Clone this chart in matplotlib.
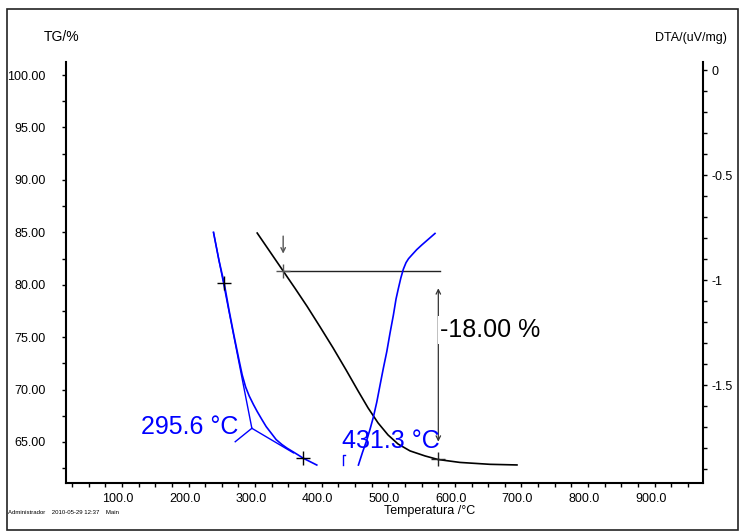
import matplotlib
matplotlib.use("Agg")
import matplotlib.pyplot as plt
import matplotlib.transforms as mtransforms
from matplotlib.patches import Rectangle

plt.rcParams["font.family"] = ["Liberation Sans", "DejaVu Sans"]

# TG curve (left axis, %)
tg_temp = [303.1, 322.6, 342.1, 360.1, 378.1, 397.6, 417.1, 436.6, 454.6,
           469.6, 484.6, 499.6, 514.6, 532.6, 555.1, 574.6, 607.7, 652.7,
           693.2]
tg_mass = [84.93, 83.12, 81.31, 79.64, 77.93, 75.97, 73.97, 71.87, 69.87,
           68.25, 66.82, 65.67, 64.81, 64.15, 63.67, 63.33, 63.05, 62.87,
           62.81]

# DTA curve (right axis, uV/mg), two visible pieces
dta1_temp = [237.5, 245.6, 253.6, 260.8, 268.1, 275.8, 280.6, 285.8, 291.1,
             297.5, 303.1, 310.1, 316.6, 325.1, 331.6, 340.1, 348.1, 357.5,
             364.6, 372.5, 382.6, 392.6]
dta1_val = [-0.773, -0.905, -1.016, -1.143, -1.262, -1.381, -1.452, -1.510,
            -1.552, -1.593, -1.626, -1.664, -1.698, -1.733, -1.760, -1.783,
            -1.801, -1.819, -1.833, -1.849, -1.865, -1.881]
dta2_temp = [455.1, 461.4, 467.7, 472.6, 477.6, 482.7, 487.6, 492.6, 497.7,
             502.6, 507.6, 511.6, 515.1, 518.8, 522.6, 526.6, 530.4, 535.2,
             542.7, 550.2, 559.6, 570.1]
dta2_val = [-1.881, -1.819, -1.762, -1.710, -1.652, -1.581, -1.500, -1.419,
            -1.341, -1.252, -1.167, -1.090, -1.040, -0.990, -0.948, -0.917,
            -0.898, -0.881, -0.855, -0.833, -0.807, -0.778]

# onset construction lines
tan1_temp = [237.5, 295.1]
tan1_val = [-0.773, -1.706]
tan2_temp = [295.1, 357.5]
tan2_val = [-1.706, -1.823]
mark_temp = [295.1, 270.1]
mark_val = [-1.706, -1.770]
onset1 = 295.6
onset2 = 431.3

# step evaluation
step_start = (342.1, 81.31)
step_end = (575.1, 63.33)
step_text = "-18.00 %"

x_major = [100, 200, 300, 400, 500, 600, 700, 800, 900]
x_labels = ["100.0", "200.0", "300.0", "400.0", "500.0", "600.0", "700.0",
            "800.0", "900.0"]
tg_ticks = [65, 70, 75, 80, 85, 90, 95, 100]
tg_labels = ["65.00", "70.00", "75.00", "80.00", "85.00", "90.00", "95.00",
             "100.00"]
dta_ticks = [-1.5, -1.0, -0.5, 0.0]
dta_labels = ["-1.5", "-1", "-0.5", "0"]

fig = plt.figure(figsize=(7.39, 5.32), dpi=100)
W, H = 739, 532
ax = fig.add_axes([66 / W, 1 - 483.3 / H, (703.3 - 66) / W, (483.3 - 61.7) / H])
ax2 = ax.twinx()

# outer frame
fig.patches.append(Rectangle((7 / W, 2 / H), 1 - 8 / W, 521 / H,
                             transform=fig.transFigure, fill=False,
                             edgecolor="#222222", lw=1.2))

ax.set_xlim(16, 973)
ax.set_ylim(61.06, 101.27)
ax2.set_ylim(-1.968, 0.04)

for a in (ax, ax2):
    a.spines["top"].set_visible(False)
    a.patch.set_visible(False)
ax.spines["right"].set_visible(False)
ax2.spines["left"].set_visible(False)
ax2.spines["bottom"].set_visible(False)
ax.spines["left"].set_linewidth(1.5)
ax.spines["bottom"].set_linewidth(1.5)
ax2.spines["right"].set_linewidth(1.5)

ax.set_xticks(x_major)
ax.set_xticklabels(x_labels)
ax.set_xticks([t for t in range(25, 975, 25) if t % 100], minor=True)
ax.set_yticks(tg_ticks)
ax.set_yticklabels(tg_labels)
ax.set_yticks([62.5 + 5 * i for i in range(8)], minor=True)
ax2.set_yticks(dta_ticks)
ax2.set_yticklabels(dta_labels)
ax2.set_yticks([-0.1 * i for i in range(1, 20) if i % 5], minor=True)

ax.tick_params(axis="x", which="both", direction="out", length=3, width=1,
               labelsize=9, pad=4)
ax.tick_params(axis="y", which="both", direction="out", length=3, width=1,
               labelsize=9, pad=11.5)
ax2.tick_params(axis="y", which="both", direction="out", length=3, width=1,
                labelsize=9, pad=2.9)

shift = mtransforms.ScaledTranslation(-0.04, 0, fig.dpi_scale_trans)
for lab in ax.get_xticklabels():
    lab.set_transform(lab.get_transform() + shift)

fig.text(62 / W, 1 - 37 / H, "TG/%", fontsize=10, ha="center", va="center")
fig.text(691 / W, 1 - 38 / H, "DTA/(uV/mg)", fontsize=9, ha="center",
         va="center")
fig.text(430 / W, 1 - 511 / H, "Temperatura /°C", fontsize=9, ha="center",
         va="center")
fig.text(8 / W, 1 - 512 / H, "Administrador    2010-05-29 12:37    Main",
         fontsize=4.3, ha="left", va="center")

# TG curve and step
ax.plot(tg_temp, tg_mass, color="black", lw=1.2)
ax.plot([step_start[0], 577.6], [step_start[1], step_start[1]],
        color="#222222", lw=1)
ax.annotate("", xy=(step_start[0], 82.7), xytext=(step_start[0], 84.9),
            arrowprops=dict(arrowstyle="->", color="#555555", lw=1,
                            mutation_scale=8))
ax.annotate("", xy=(step_end[0], 79.66), xytext=(step_end[0], 65.03),
            arrowprops=dict(arrowstyle="<->", color="#333333", lw=0.9,
                            mutation_scale=8, shrinkA=0, shrinkB=0))
ax.plot(*step_start, marker="+", ms=10, mew=1, color="#555555")
ax.plot(*step_end, marker="+", ms=10, mew=1, color="#222222")
ax.text(577.8, 75.7, step_text, fontsize=18, color="black", ha="left",
        va="center", zorder=6,
        bbox=dict(facecolor="white", edgecolor="none", pad=1.5))

# DTA curve and onset construction
blue = "#0000ff"
ax2.plot(dta1_temp, dta1_val, color=blue, lw=1.2)
ax2.plot(dta2_temp, dta2_val, color=blue, lw=1.2)
ax2.plot(tan1_temp, tan1_val, color=blue, lw=1)
ax2.plot(tan2_temp, tan2_val, color=blue, lw=1)
ax2.plot(mark_temp, mark_val, color=blue, lw=1)
ax2.plot([onset2, onset2, onset2 + 3], [-1.881, -1.833, -1.833],
         color=blue, lw=1)
ax2.plot(dta1_temp[2], dta1_val[2], marker="+", ms=10, mew=1, color="black")
ax2.plot(dta1_temp[19], dta1_val[19], marker="+", ms=10, mew=1,
         color="black")

ax.text(274.6, 66.46, f"{onset1:.1f} °C", fontsize=18, color=blue,
        ha="right", va="center", zorder=6)
ax.text(577.0, 65.1, f"{onset2:.1f} °C", fontsize=18, color=blue,
        ha="right", va="center", zorder=6)

fig.savefig("out.png", dpi=100)
